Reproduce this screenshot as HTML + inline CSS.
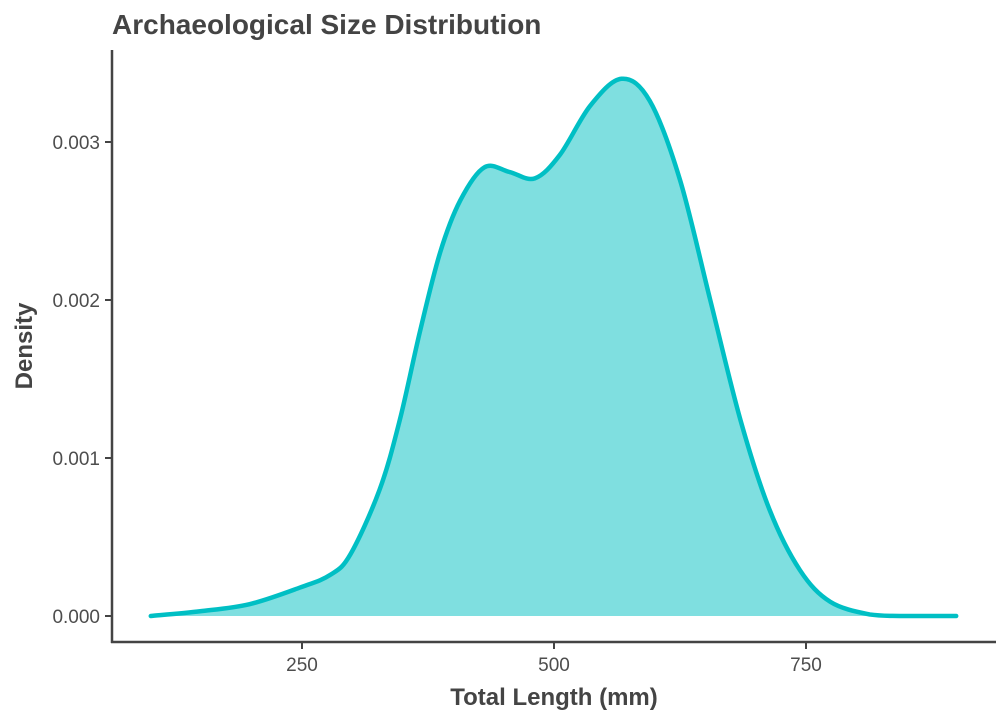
<!DOCTYPE html>
<html><head><meta charset="utf-8"><style>
html,body{margin:0;padding:0;background:#fff;}
svg{display:block;font-family:"Liberation Sans",sans-serif;}
</style></head><body>
<svg width="1008" height="720">
<text x="112" y="34" font-size="28" font-weight="bold" fill="#444">Archaeological Size Distribution</text>
<g id="plot"></g>
<line x1="112" y1="50" x2="112" y2="643" stroke="#444" stroke-width="2.5"/>
<line x1="111" y1="642" x2="996" y2="642" stroke="#444" stroke-width="2.5"/>
<g id="xt"></g><g id="yt"></g>
<text x="554" y="705" font-size="24" font-weight="bold" fill="#444" text-anchor="middle">Total Length (mm)</text>
<text transform="translate(32,346) rotate(-90)" font-size="24" font-weight="bold" fill="#444" text-anchor="middle">Density</text>
</svg>
<script>
const xsVals=[100,149,198,248,278,298,327,347,367,387,407,431,456,481,506,536,567,595,625,655,685,714,744,774,813,843,899];
const densities=[0,0.00003,0.000075,0.00018,0.00026,0.00039,0.0008,0.00124,0.0018,0.0023,0.00263,0.00284,0.00281,0.00277,0.00292,0.00323,0.0034,0.00326,0.00276,0.002,0.00124,0.00067,0.00029,0.00009,0.00001,0,0];
const xTicks=[250,500,750];
const yTicks=[0,0.001,0.002,0.003];
const yTickLabels=["0.000","0.001","0.002","0.003"];
const NS="http://www.w3.org/2000/svg";
function X(v){return 50+v*1.008;}
function Y(v){return 616-v*158000;}
const pts=xsVals.map((v,i)=>[X(v),Y(densities[i])]);
let d="M"+pts[0][0]+","+pts[0][1];
for(let i=0;i<pts.length-1;i++){
 const p0=pts[Math.max(i-1,0)],p1=pts[i],p2=pts[i+1],p3=pts[Math.min(i+2,pts.length-1)];
 let c1y=p1[1]+(p2[1]-p0[1])/6,c2y=p2[1]-(p3[1]-p1[1])/6;
 c1y=Math.min(c1y,616);c2y=Math.min(c2y,616);
 d+=` C${p1[0]+(p2[0]-p0[0])/6},${c1y} ${p2[0]-(p3[0]-p1[0])/6},${c2y} ${p2[0]},${p2[1]}`;
}
const plot=document.getElementById('plot');
const fill=document.createElementNS(NS,'path');
fill.setAttribute('d',d+` L${pts[pts.length-1][0]},616 L${pts[0][0]},616 Z`);
fill.setAttribute('fill','#7fdfe0');


plot.appendChild(fill);
const line=document.createElementNS(NS,'path');
line.setAttribute('d',d);
line.setAttribute('fill','none');line.setAttribute('stroke','#00bfc4');line.setAttribute('stroke-width','4.5');line.setAttribute('stroke-linejoin','round');line.setAttribute('stroke-linecap','round');


plot.appendChild(line);
const xt=document.getElementById('xt');
xTicks.forEach(v=>{
 const l=document.createElementNS(NS,'line');
 l.setAttribute('x1',X(v));l.setAttribute('x2',X(v));l.setAttribute('y1',642);l.setAttribute('y2',649);l.setAttribute('stroke','#444');l.setAttribute('stroke-width','2');
 
 
 xt.appendChild(l);
 const t=document.createElementNS(NS,'text');
 t.setAttribute('x',X(v));t.setAttribute('y',671);t.setAttribute('font-size','19');t.setAttribute('fill','#4d4d4d');t.setAttribute('text-anchor','middle');
 t.textContent=v;
 
 
 xt.appendChild(t);
});
const yt=document.getElementById('yt');
yTicks.forEach((v,i)=>{
 const l=document.createElementNS(NS,'line');
 l.setAttribute('x1',105);l.setAttribute('x2',112);l.setAttribute('y1',Y(v));l.setAttribute('y2',Y(v));l.setAttribute('stroke','#444');l.setAttribute('stroke-width','2');
 
 
 yt.appendChild(l);
 const t=document.createElementNS(NS,'text');
 t.setAttribute('x',100);t.setAttribute('y',Y(v)+7);t.setAttribute('font-size','19');t.setAttribute('fill','#4d4d4d');t.setAttribute('text-anchor','end');
 t.textContent=yTickLabels[i];
 
 
 yt.appendChild(t);
});
</script>
</body></html>
